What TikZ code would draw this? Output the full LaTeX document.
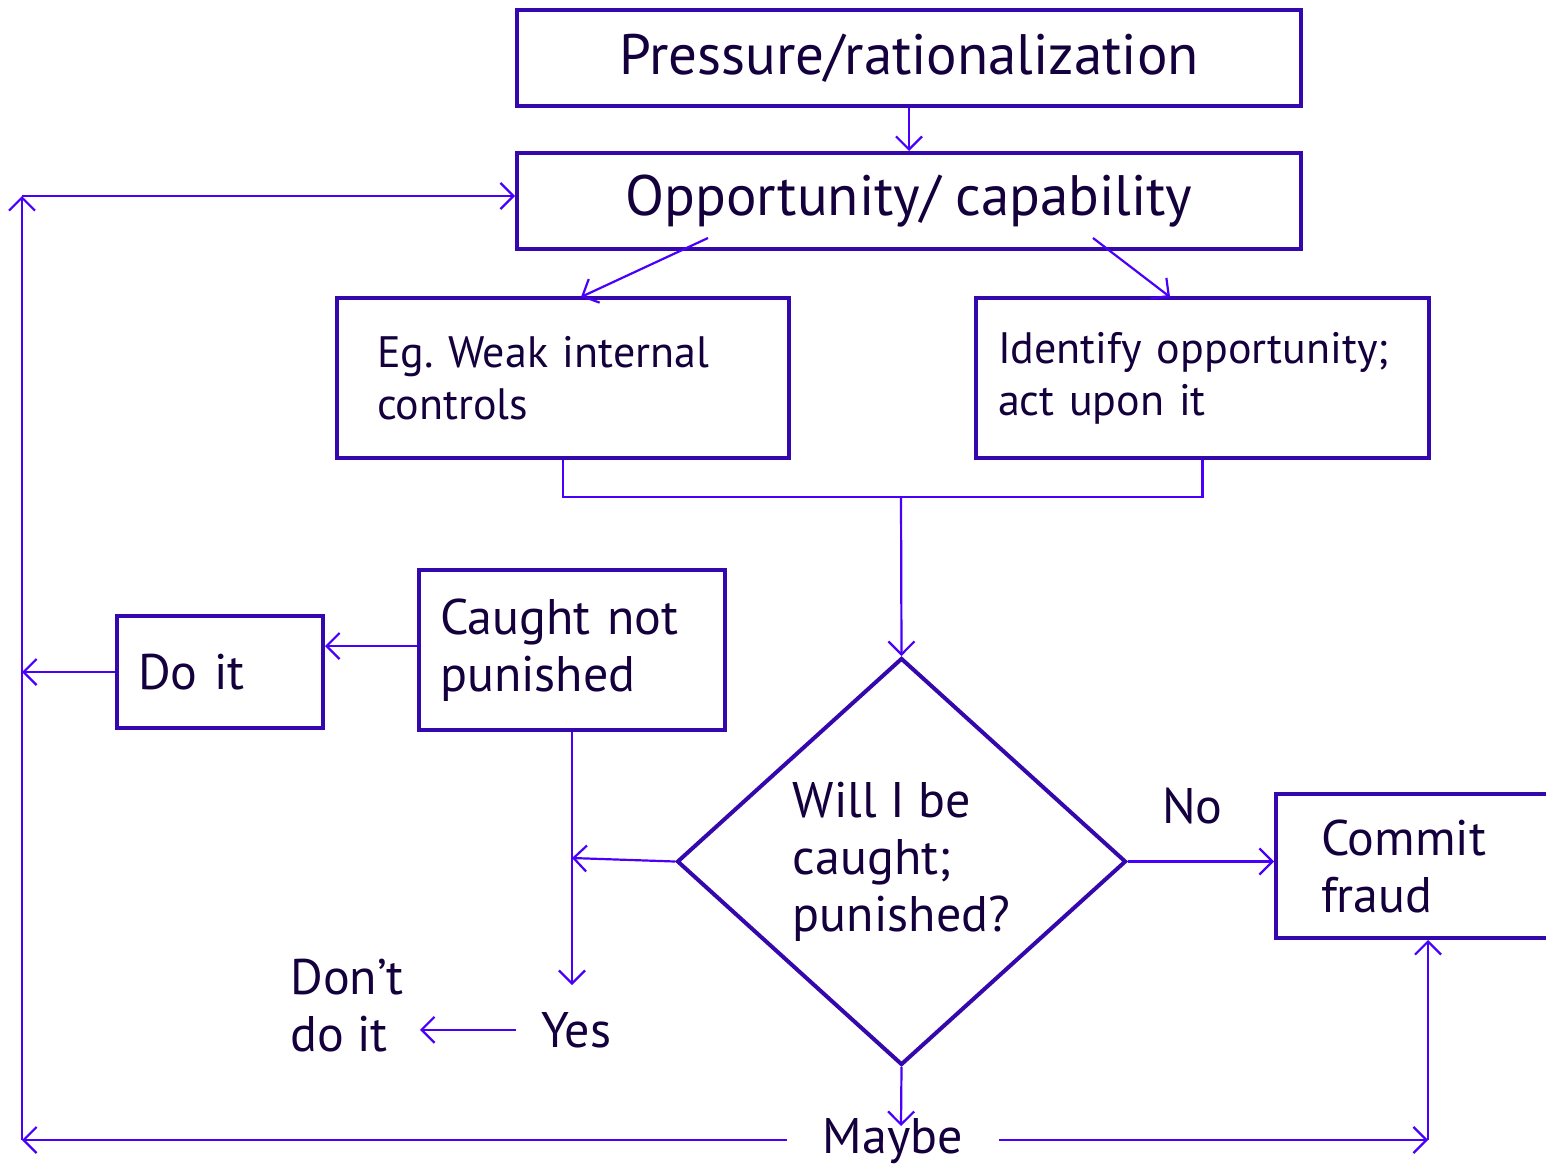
\documentclass[tikz,border=0pt]{standalone}
\usepackage{fontspec}
\setmainfont{PT Sans}
\usetikzlibrary{arrows.meta,shapes.geometric,calc}
\definecolor{boxc}{RGB}{52,8,172}
\definecolor{arr}{RGB}{72,0,250}
\definecolor{txt}{RGB}{20,0,60}
\frenchspacing
\begin{document}
\begin{tikzpicture}[x=1pt,y=-1pt,
  box/.style={draw=boxc, line width=4pt, inner ysep=0pt, text=txt, align=left},
  conn/.style={draw=arr, line width=2.2pt, -{Straight Barb[length=13pt,width=26pt,line width=2.2pt]}},
  plain/.style={draw=arr, line width=2.2pt},
  lbl/.style={text=txt, inner sep=0pt, align=left},
  big/.style={font=\fontsize{57}{64}\selectfont},
  mid/.style={font=\fontsize{44}{52}\selectfont},
  large/.style={font=\fontsize{50}{57}\selectfont}]
\clip (0,0) rectangle (1546,1167);

% boxes
\node[box, big, align=center, minimum width=784pt, minimum height=96pt] (pr) at (909,58) {Pressure/rationalization};
\node[box, big, align=center, minimum width=784pt, minimum height=96pt] (op) at (909,201) {Opportunity/ capability};
\node[box, mid, inner xsep=40pt, text width=372pt, minimum height=160pt] (weak) at (563,378) {Eg. Weak internal\\controls};
\node[box, mid, inner xsep=22pt, text width=409pt, minimum height=160pt] (idn) at (1202.5,378) {Identify opportunity;\\act upon it};
\node[box, large, inner xsep=21pt, text width=264pt, minimum height=160pt] (caught) at (572,650) {Caught not\\punished};
\node[box, large, inner xsep=21pt, text width=164pt, minimum height=112pt] (doit) at (220,672) {Do it};
\node[box, large, inner xsep=45pt, text width=230pt, minimum height=144pt] (commit) at (1436,866) {Commit\\fraud};
\node[box, large, diamond, inner sep=0pt, minimum width=449pt, minimum height=407pt] (dm) at (901.5,861.5) {Will I be\\caught;\\punished?};

% free labels
\node[lbl, large, anchor=base west] (no) at (1162,823) {No};
\node[lbl, large, anchor=base west, inner xsep=25pt] (yes) at (516,1047) {Yes};
\node[lbl, large, anchor=east, inner xsep=16pt] (dont) at (420,1006) {Don’t\\do it};
\node[lbl, large, anchor=base, inner xsep=36pt] (maybe) at (893,1153) {Maybe};

% corner and end points of the connectors
\coordinate (bl) at (22,1140);
\coordinate (tl) at (22,196);
\coordinate (dl) at (22,672);
\coordinate (br) at (1428,1140);
\coordinate (j) at (901,497);
\coordinate (o1) at (708,238);
\coordinate (o2) at (1093,238);
\coordinate (w1) at (581,297);
\coordinate (i1) at (1170,297);
\coordinate (cy) at (572,985);
\coordinate (dy) at (572,858);
\coordinate (mt) at (901,1126);

% connectors
\draw[conn] (pr.south) -- (op.north);
\draw[conn] (o1) -- (w1);
\draw[conn] (o2) -- (i1);
\draw[plain] (weak.south) |- (j) -| (idn.south);
\draw[conn] (j) -- (dm.north);
\draw[conn] ([yshift=4pt]caught.west) -- ([yshift=4pt]caught.west -| doit.east);
\draw[conn] (doit.west) -- (dl);
\draw[conn] (caught.south) -- (cy);
\draw[conn] (dm.west) -- (dy);
\draw[conn] (yes.west) -- (yes.west -| dont.east);
\draw[conn] (dm.east) -- (dm.east -| commit.west);
\draw[conn] (dm.south) -- (mt);
\draw[conn] (maybe.west |- bl) -- (bl);
\draw[conn] (bl) -- (tl);
\draw[conn] (tl) -- (tl -| op.west);
\draw[conn] (maybe.east |- br) -- (br);
\draw[conn] (br) -- (br |- commit.south);
\end{tikzpicture}
\end{document}
